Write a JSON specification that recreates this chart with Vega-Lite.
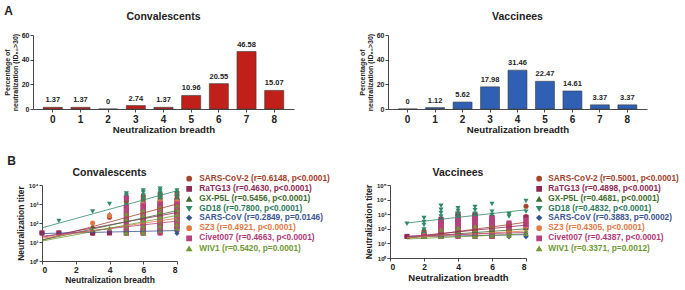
{
"$schema": "https://vega.github.io/schema/vega-lite/v6.json",
"background": "white",
"padding": {"left": 3, "top": 4, "right": 0, "bottom": 0},
"config": {
  "font": "Liberation Sans",
  "view": {"stroke": null},
  "axis": {"grid": false, "domainColor": "#333", "tickColor": "#333", "labelColor": "#222", "titleColor": "#222", "labelFontWeight": "bold", "titleFontWeight": "bold", "tickSize": 3, "domainWidth": 0.9, "tickWidth": 0.9},
  "title": {"fontWeight": "bold", "color": "#222", "fontSize": 10.5, "frame": "group"}
},
"datasets": {
  "barsC": [{"b":0,"p":1.37},{"b":1,"p":1.37},{"b":2,"p":0},{"b":3,"p":2.74},{"b":4,"p":1.37},{"b":5,"p":10.96},{"b":6,"p":20.55},{"b":7,"p":46.58},{"b":8,"p":15.07}],
  "barsV": [{"b":0,"p":0},{"b":1,"p":1.12},{"b":2,"p":5.62},{"b":3,"p":17.98},{"b":4,"p":31.46},{"b":5,"p":22.47},{"b":6,"p":14.61},{"b":7,"p":3.37},{"b":8,"p":3.37}],
  "ptsC": [
    {"v":"SARS-CoV-2","x":0,"t":[30]},{"v":"SARS-CoV-2","x":1,"t":[30]},{"v":"SARS-CoV-2","x":3,"t":[30,30]},{"v":"SARS-CoV-2","x":4,"t":[200]},
    {"v":"SARS-CoV-2","x":5,"t":[2500,1400,800,450,250,140,80,45]},
    {"v":"SARS-CoV-2","x":6,"t":[2600,1800,1200,800,500,320,200,130,80,50,35]},
    {"v":"SARS-CoV-2","x":7,"t":[3600,2700,2000,1400,1000,700,480,330,220,150,100,65,40]},
    {"v":"SARS-CoV-2","x":8,"t":[4000,2800,1900,1300,850,550,350,220,140]},
    {"v":"RaTG13","x":5,"t":[600,300,150,80,40,30]},
    {"v":"RaTG13","x":6,"t":[900,550,330,200,120,70,40,30]},
    {"v":"RaTG13","x":7,"t":[1100,750,500,330,220,140,90,55,35]},
    {"v":"RaTG13","x":8,"t":[1400,850,500,300,180,110,65]},
    {"v":"GX-P5L","x":3,"t":[70]},{"v":"GX-P5L","x":4,"t":[300]},
    {"v":"GX-P5L","x":5,"t":[400,180,90,50,30]},
    {"v":"GX-P5L","x":6,"t":[600,330,180,100,55,35]},
    {"v":"GX-P5L","x":7,"t":[800,480,280,160,95,55,35]},
    {"v":"GX-P5L","x":8,"t":[1000,600,350,200,115,65]},
    {"v":"GD18","x":1,"t":[130]},{"v":"GD18","x":3,"t":[400]},{"v":"GD18","x":4,"t":[1000]},
    {"v":"GD18","x":5,"t":[3600,2800,1600,900,500,250,120]},
    {"v":"GD18","x":6,"t":[5200,4000,2800,1800,1100,650,350,180,90]},
    {"v":"GD18","x":7,"t":[6300,5000,3800,2800,2000,1400,900,550,300,160]},
    {"v":"GD18","x":8,"t":[5200,3600,2400,1500,900,500,280]},
    {"v":"SARS-CoV","x":5,"t":[30,30,40]},{"v":"SARS-CoV","x":6,"t":[30,35,45,30]},
    {"v":"SARS-CoV","x":7,"t":[30,35,42,50,30]},{"v":"SARS-CoV","x":8,"t":[28,35,45,60,38]},
    {"v":"SZ3","x":3,"t":[100]},{"v":"SZ3","x":4,"t":[250]},
    {"v":"SZ3","x":5,"t":[700,350,170,90,45,30]},
    {"v":"SZ3","x":6,"t":[1000,550,300,160,85,45,30]},
    {"v":"SZ3","x":7,"t":[1300,800,480,280,160,90,50,30]},
    {"v":"SZ3","x":8,"t":[1300,750,430,250,140,80]},
    {"v":"Civet007","x":5,"t":[2000,700,350,180,90,50,30]},
    {"v":"Civet007","x":6,"t":[800,500,300,180,100,60,35,30]},
    {"v":"Civet007","x":7,"t":[1000,650,420,270,170,105,65,40,30]},
    {"v":"Civet007","x":8,"t":[1000,620,380,230,140,85,50]},
    {"v":"WIV1","x":3,"t":[45]},{"v":"WIV1","x":4,"t":[55]},
    {"v":"WIV1","x":5,"t":[300,150,70,35,30]},
    {"v":"WIV1","x":6,"t":[450,240,130,70,40,30]},
    {"v":"WIV1","x":7,"t":[650,380,220,125,70,40]},
    {"v":"WIV1","x":8,"t":[850,480,270,150,85,50]},
    {"v":"RaTG13","x":0,"t":[30]},{"v":"RaTG13","x":1,"t":[30]},{"v":"RaTG13","x":3,"t":[30]},{"v":"RaTG13","x":4,"t":[30]}
  ],
  "linC": [
    {"v":"SARS-CoV-2","x":0,"t":12.6},{"v":"SARS-CoV-2","x":8,"t":1000},
    {"v":"RaTG13","x":0,"t":17.8},{"v":"RaTG13","x":8,"t":355},
    {"v":"GX-P5L","x":0,"t":12.6},{"v":"GX-P5L","x":8,"t":447},
    {"v":"GD18","x":0,"t":56},{"v":"GD18","x":8,"t":5000},
    {"v":"SARS-CoV","x":0,"t":28},{"v":"SARS-CoV","x":8,"t":40},
    {"v":"SZ3","x":0,"t":15.8},{"v":"SZ3","x":8,"t":178},
    {"v":"Civet007","x":0,"t":20},{"v":"Civet007","x":8,"t":126},
    {"v":"WIV1","x":0,"t":11.2},{"v":"WIV1","x":8,"t":251}
  ],
  "ptsV": [
    {"v":"SARS-CoV-2","x":1,"t":[30]},{"v":"SARS-CoV-2","x":2,"t":[70,45,30]},
    {"v":"SARS-CoV-2","x":3,"t":[400,250,150,90,55,35,30]},
    {"v":"SARS-CoV-2","x":4,"t":[500,320,200,120,75,45,30]},
    {"v":"SARS-CoV-2","x":5,"t":[1000,600,380,230,140,85,50,30]},
    {"v":"SARS-CoV-2","x":6,"t":[350,250,160,100,60,35]},
    {"v":"SARS-CoV-2","x":7,"t":[150,80]},{"v":"SARS-CoV-2","x":8,"t":[3500,700]},
    {"v":"RaTG13","x":2,"t":[40,30]},
    {"v":"RaTG13","x":3,"t":[450,280,170,100,60,40,30]},
    {"v":"RaTG13","x":4,"t":[1050,700,450,280,170,100,60,35]},
    {"v":"RaTG13","x":5,"t":[900,550,330,200,120,70,40]},
    {"v":"RaTG13","x":6,"t":[600,400,250,150,90,50,30]},
    {"v":"RaTG13","x":7,"t":[200,110,60]},{"v":"RaTG13","x":8,"t":[600,250,120]},
    {"v":"GX-P5L","x":2,"t":[30]},{"v":"GX-P5L","x":3,"t":[150,80,45,30]},
    {"v":"GX-P5L","x":4,"t":[200,110,60,35]},{"v":"GX-P5L","x":5,"t":[250,140,80,45,30]},
    {"v":"GX-P5L","x":6,"t":[200,110,60,35]},{"v":"GX-P5L","x":7,"t":[50,40]},{"v":"GX-P5L","x":8,"t":[60,40]},
    {"v":"GD18","x":1,"t":[220]},{"v":"GD18","x":2,"t":[550,300,180,90,45]},
    {"v":"GD18","x":3,"t":[3800,2000,1200,700,350,150]},
    {"v":"GD18","x":4,"t":[2600,1700,1000,600,300]},
    {"v":"GD18","x":5,"t":[3100,1900,1100,650,350]},
    {"v":"GD18","x":6,"t":[5000,1500,900,500]},
    {"v":"GD18","x":7,"t":[1000,700]},{"v":"GD18","x":8,"t":[8000,1500]},
    {"v":"SARS-CoV","x":2,"t":[30]},{"v":"SARS-CoV","x":3,"t":[30,35]},{"v":"SARS-CoV","x":4,"t":[30,40,55]},
    {"v":"SARS-CoV","x":5,"t":[30,45,60]},{"v":"SARS-CoV","x":6,"t":[30,40,60]},{"v":"SARS-CoV","x":7,"t":[28]},{"v":"SARS-CoV","x":8,"t":[28,35]},
    {"v":"SZ3","x":2,"t":[35]},{"v":"SZ3","x":3,"t":[120,60,35]},{"v":"SZ3","x":4,"t":[180,100,55,35]},
    {"v":"SZ3","x":5,"t":[220,120,65,35]},{"v":"SZ3","x":6,"t":[150,80,45]},{"v":"SZ3","x":7,"t":[90,50]},{"v":"SZ3","x":8,"t":[300,150]},
    {"v":"Civet007","x":2,"t":[30]},
    {"v":"Civet007","x":3,"t":[300,180,100,60,35,30]},
    {"v":"Civet007","x":4,"t":[400,250,150,90,50,30]},
    {"v":"Civet007","x":5,"t":[500,300,180,100,55,30]},
    {"v":"Civet007","x":6,"t":[500,300,170,95,50,30]},
    {"v":"Civet007","x":7,"t":[250,130]},{"v":"Civet007","x":8,"t":[400,200]},
    {"v":"WIV1","x":2,"t":[30]},{"v":"WIV1","x":3,"t":[90,45,30]},{"v":"WIV1","x":4,"t":[120,65,35]},
    {"v":"WIV1","x":5,"t":[150,80,40,30]},{"v":"WIV1","x":6,"t":[130,70,35]},{"v":"WIV1","x":7,"t":[60,35]},{"v":"WIV1","x":8,"t":[80,45]},
    {"v":"RaTG13","x":1,"t":[30]}
  ],
  "linV": [
    {"v":"SARS-CoV-2","x":1,"t":22},{"v":"SARS-CoV-2","x":8,"t":280},
    {"v":"RaTG13","x":1,"t":28},{"v":"RaTG13","x":8,"t":178},
    {"v":"GX-P5L","x":1,"t":25},{"v":"GX-P5L","x":8,"t":100},
    {"v":"GD18","x":1,"t":250},{"v":"GD18","x":8,"t":2000},
    {"v":"SARS-CoV","x":1,"t":28},{"v":"SARS-CoV","x":8,"t":40},
    {"v":"SZ3","x":1,"t":25},{"v":"SZ3","x":8,"t":71},
    {"v":"Civet007","x":1,"t":32},{"v":"Civet007","x":8,"t":56},
    {"v":"WIV1","x":1,"t":20},{"v":"WIV1","x":8,"t":45}
  ]
},
"columns": 1,
"align": "none",
"spacing": 21,
"concat": [
 {
  "title": {"text": "A", "anchor": "start", "frame": "bounds", "fontSize": 12, "offset": -6, "dx": 1},
  "spacing": 64,
  "hconcat": [
   {
    "width": 261, "height": 74,
    "title": {"text": "Convalescents", "offset": 9},
    "data": {"name": "barsC"},
    "encoding": {
      "x": {"field": "b", "type": "ordinal", "scale": {"paddingInner": 0.31, "paddingOuter": 0.37}, "axis": {"labelAngle": 0, "title": "Neutralization breadth", "labelFontSize": 10, "titleFontSize": 9.7, "labelPadding": 2, "titlePadding": 0}},
      "y": {"field": "p", "type": "quantitative", "scale": {"domain": [0, 60], "nice": false}, "axis": {"values": [0, 20, 40, 60], "title": ["Percentage of", "neutralization  (ID₅₀>30)"], "titleFontSize": 7, "titleLineHeight": 8, "labelFontSize": 7, "labelPadding": 1, "titlePadding": 3}}
    },
    "layer": [
      {"mark": {"type": "bar", "color": "#C11F1A", "stroke": "#3a3a3a", "strokeWidth": 0.6}},
      {"mark": {"type": "text", "baseline": "bottom", "dy": -3, "fontSize": 7.5, "fontWeight": "bold", "color": "#222"}, "encoding": {"text": {"field": "p", "type": "quantitative"}}}
    ]
   },
   {
    "width": 259, "height": 74,
    "title": {"text": "Vaccinees", "offset": 9},
    "data": {"name": "barsV"},
    "encoding": {
      "x": {"field": "b", "type": "ordinal", "scale": {"paddingInner": 0.31, "paddingOuter": 0.37}, "axis": {"labelAngle": 0, "title": "Neutralization breadth", "labelFontSize": 10, "titleFontSize": 9.7, "labelPadding": 2, "titlePadding": 0}},
      "y": {"field": "p", "type": "quantitative", "scale": {"domain": [0, 60], "nice": false}, "axis": {"values": [0, 20, 40, 60], "title": ["Percentage of", "neutralization  (ID₅₀>30)"], "titleFontSize": 7, "titleLineHeight": 8, "labelFontSize": 7, "labelPadding": 1, "titlePadding": 3}}
    },
    "layer": [
      {"mark": {"type": "bar", "color": "#2F60B4", "stroke": "#3a3a3a", "strokeWidth": 0.6}},
      {"mark": {"type": "text", "baseline": "bottom", "dy": -3, "fontSize": 7.5, "fontWeight": "bold", "color": "#222"}, "encoding": {"text": {"field": "p", "type": "quantitative"}}}
    ]
   }
  ]
 },
 {
  "title": {"text": "B", "anchor": "start", "frame": "bounds", "fontSize": 12, "offset": 0, "dx": -9},
  "spacing": 34,
  "resolve": {"scale": {"color": "independent", "shape": "independent"}},
  "hconcat": [
   {
    "width": 144, "height": 76,
    "title": {"text": "Convalescents", "offset": -4, "dx": 4.5},
    "encoding": {
      "x": {"field": "x", "type": "quantitative", "scale": {"domain": [0, 8], "nice": false, "range": [9, 144]}, "axis": {"values": [0, 2, 4, 6, 8], "title": "Neutralization breadth", "labelFontSize": 8.5, "titleFontSize": 8.5, "labelPadding": 1, "titlePadding": 2}},
      "y": {"field": "t", "type": "quantitative", "scale": {"type": "log", "domain": [1, 10000], "nice": false}, "axis": {"offset": -9, "values": [1, 10, 100, 1000, 10000], "labelExpr": "'10' + ['⁰','¹','²','³','⁴','⁵'][round(log(datum.value)/LN10)]", "title": "Neutralization titer", "labelFontSize": 6, "titleFontSize": 8.5, "labelPadding": 1, "titlePadding": 3}},
      "color": {"field": "v", "type": "nominal",
        "scale": {"domain": ["SARS-CoV-2","RaTG13","GX-P5L","GD18","SARS-CoV","SZ3","Civet007","WIV1"], "range": ["#A8432E","#8E2A55","#3F6B2E","#2E8A68","#3B5590","#E07A45","#B8407E","#6E9A35"]},
        "legend": {"title": null, "orient": "none", "legendX": 152, "legendY": -10.5, "padding": 0, "labelFontSize": 8.3, "labelFontWeight": "bold", "labelLimit": 400, "symbolSize": 18, "rowPadding": -0.7, "labelOffset": 6,
          "labelExpr": "({'SARS-CoV-2':'SARS-CoV-2 (r=0.6148, p<0.0001)','RaTG13':'RaTG13 (r=0.4630, p<0.0001)','GX-P5L':'GX-P5L (r=0.5456, p<0.0001)','GD18':'GD18 (r=0.7800, p<0.0001)','SARS-CoV':'SARS-CoV (r=0.2849, p=0.0146)','SZ3':'SZ3 (r=0.4921, p<0.0001)','Civet007':'Civet007 (r=0.4663, p<0.0001)','WIV1':'WIV1 (r=0.5420, p=0.0001)'})[datum.value]",
          "labelColor": {"expr": "({'SARS-CoV-2':'#A3402C','RaTG13':'#8E2A55','GX-P5L':'#3F6B2E','GD18':'#2E7A5E','SARS-CoV':'#3B5590','SZ3':'#E07A45','Civet007':'#B03A78','WIV1':'#6E9A35'})[datum.value]"}}}
    },
    "layer": [
      {"data": {"name": "ptsC"}, "transform": [{"flatten": ["t"]}],
       "mark": {"type": "point", "filled": true, "size": 26, "opacity": 1},
       "encoding": {"shape": {"field": "v", "type": "nominal",
         "scale": {"domain": ["SARS-CoV-2","RaTG13","GX-P5L","GD18","SARS-CoV","SZ3","Civet007","WIV1"], "range": ["circle","square","triangle-up","triangle-down","diamond","circle","square","triangle-up"]},
         "legend": {"title": null, "orient": "none", "legendX": 152, "legendY": -10.5, "padding": 0, "labelFontSize": 8.3, "labelFontWeight": "bold", "labelLimit": 400, "symbolSize": 18, "rowPadding": -0.7, "labelOffset": 6,
          "labelExpr": "({'SARS-CoV-2':'SARS-CoV-2 (r=0.6148, p<0.0001)','RaTG13':'RaTG13 (r=0.4630, p<0.0001)','GX-P5L':'GX-P5L (r=0.5456, p<0.0001)','GD18':'GD18 (r=0.7800, p<0.0001)','SARS-CoV':'SARS-CoV (r=0.2849, p=0.0146)','SZ3':'SZ3 (r=0.4921, p<0.0001)','Civet007':'Civet007 (r=0.4663, p<0.0001)','WIV1':'WIV1 (r=0.5420, p=0.0001)'})[datum.value]",
          "labelColor": {"expr": "({'SARS-CoV-2':'#A3402C','RaTG13':'#8E2A55','GX-P5L':'#3F6B2E','GD18':'#2E7A5E','SARS-CoV':'#3B5590','SZ3':'#E07A45','Civet007':'#B03A78','WIV1':'#6E9A35'})[datum.value]"}}}}},
      {"data": {"name": "linC"}, "mark": {"type": "line", "strokeWidth": 0.8}}
    ]
   },
   {
    "width": 136, "height": 73,
    "title": {"text": "Vaccinees", "offset": -4},
    "encoding": {
      "x": {"field": "x", "type": "quantitative", "scale": {"domain": [0, 8], "nice": false}, "axis": {"values": [0, 2, 4, 6, 8], "title": "Neutralization breadth", "labelFontSize": 8.5, "titleFontSize": 9.5, "labelPadding": 1, "titlePadding": 2}},
      "y": {"field": "t", "type": "quantitative", "scale": {"type": "log", "domain": [1, 100000], "nice": false}, "axis": {"values": [1, 10, 100, 1000, 10000, 100000], "labelExpr": "'10' + ['⁰','¹','²','³','⁴','⁵'][round(log(datum.value)/LN10)]", "title": "Neutralization titer", "labelFontSize": 6, "titleFontSize": 8.5, "labelPadding": 1, "titlePadding": 3}},
      "color": {"field": "v", "type": "nominal",
        "scale": {"domain": ["SARS-CoV-2","RaTG13","GX-P5L","GD18","SARS-CoV","SZ3","Civet007","WIV1"], "range": ["#A8432E","#8E2A55","#3F6B2E","#2E8A68","#3B5590","#E07A45","#B8407E","#6E9A35"]},
        "legend": {"title": null, "orient": "none", "legendX": 145, "legendY": -10.5, "padding": 0, "labelFontSize": 8.3, "labelFontWeight": "bold", "labelLimit": 400, "symbolSize": 18, "rowPadding": -0.7, "labelOffset": 5,
          "labelExpr": "({'SARS-CoV-2':'SARS-CoV-2 (r=0.5001, p<0.0001)','RaTG13':'RaTG13 (r=0.4898, p<0.0001)','GX-P5L':'GX-P5L (r=0.4681, p<0.0001)','GD18':'GD18 (r=0.4832, p<0.0001)','SARS-CoV':'SARS-CoV (r=0.3883, p=0.0002)','SZ3':'SZ3 (r=0.4305, p<0.0001)','Civet007':'Civet007 (r=0.4387, p<0.0001)','WIV1':'WIV1 (r=0.3371, p=0.0012)'})[datum.value]",
          "labelColor": {"expr": "({'SARS-CoV-2':'#A3402C','RaTG13':'#8E2A55','GX-P5L':'#3F6B2E','GD18':'#2E7A5E','SARS-CoV':'#3B5590','SZ3':'#E07A45','Civet007':'#B03A78','WIV1':'#6E9A35'})[datum.value]"}}}
    },
    "layer": [
      {"data": {"name": "ptsV"}, "transform": [{"flatten": ["t"]}],
       "mark": {"type": "point", "filled": true, "size": 26, "opacity": 1},
       "encoding": {"shape": {"field": "v", "type": "nominal",
         "scale": {"domain": ["SARS-CoV-2","RaTG13","GX-P5L","GD18","SARS-CoV","SZ3","Civet007","WIV1"], "range": ["circle","square","triangle-up","triangle-down","diamond","circle","square","triangle-up"]},
         "legend": {"title": null, "orient": "none", "legendX": 145, "legendY": -10.5, "padding": 0, "labelFontSize": 8.3, "labelFontWeight": "bold", "labelLimit": 400, "symbolSize": 18, "rowPadding": -0.7, "labelOffset": 5,
          "labelExpr": "({'SARS-CoV-2':'SARS-CoV-2 (r=0.5001, p<0.0001)','RaTG13':'RaTG13 (r=0.4898, p<0.0001)','GX-P5L':'GX-P5L (r=0.4681, p<0.0001)','GD18':'GD18 (r=0.4832, p<0.0001)','SARS-CoV':'SARS-CoV (r=0.3883, p=0.0002)','SZ3':'SZ3 (r=0.4305, p<0.0001)','Civet007':'Civet007 (r=0.4387, p<0.0001)','WIV1':'WIV1 (r=0.3371, p=0.0012)'})[datum.value]",
          "labelColor": {"expr": "({'SARS-CoV-2':'#A3402C','RaTG13':'#8E2A55','GX-P5L':'#3F6B2E','GD18':'#2E7A5E','SARS-CoV':'#3B5590','SZ3':'#E07A45','Civet007':'#B03A78','WIV1':'#6E9A35'})[datum.value]"}}}}},
      {"data": {"name": "linV"}, "mark": {"type": "line", "strokeWidth": 0.8}}
    ]
   }
  ]
 }
]
}
